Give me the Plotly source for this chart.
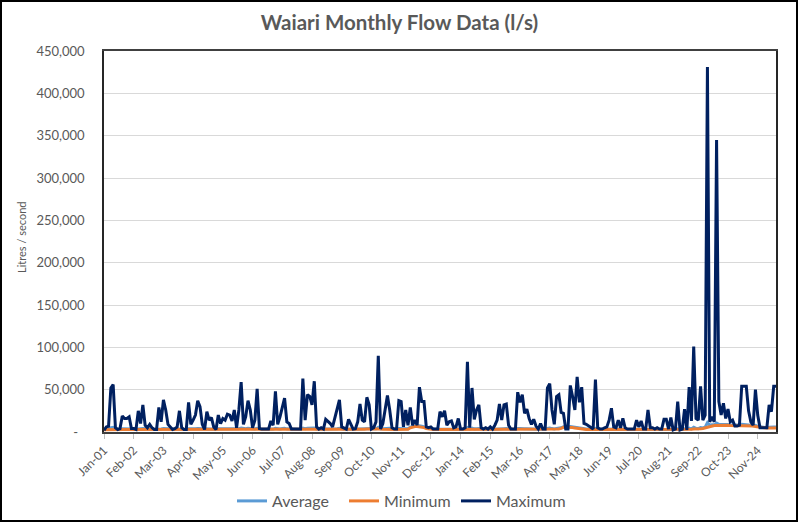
import plotly.graph_objects as go

# ---------------- data ----------------
month_names = ["Jan", "Feb", "Mar", "Apr", "May", "Jun",
               "Jul", "Aug", "Sep", "Oct", "Nov", "Dec"]
months = [f"{m}-{y % 100:02d}" for y in range(2001, 2026) for m in month_names][:295]

maximum = [
    2000, 6000, 7000, 52000, 56000, 5000, 3000, 4000, 19000, 16000, 16000, 18000,      # 2001
    4000, 4000, 3000, 25000, 10000, 32000, 8000, 5000, 9000, 5000, 3000, 3000,         # 2002
    29000, 12000, 38000, 26000, 9000, 6000, 3000, 4000, 6000, 25000, 5000, 3000,       # 2003
    3000, 35000, 9000, 14000, 20000, 37000, 30000, 9000, 3000, 24000, 14000, 17000,    # 2004
    6000, 3000, 20000, 10000, 16000, 14000, 21000, 20000, 13000, 26000, 5000, 26000,   # 2005
    59000, 9000, 18000, 37000, 26000, 5000, 14000, 51000, 4000, 3500, 3500, 3500,      # 2006
    3500, 13000, 8000, 48000, 9000, 18000, 28000, 40000, 12000, 10000, 3500, 3500,     # 2007
    3500, 3500, 3500, 63000, 14000, 44000, 42000, 32000, 60000, 6000, 3500, 5000,      # 2008
    3500, 15000, 13000, 10000, 6000, 16000, 25000, 38000, 6000, 5000, 3500, 15000,     # 2009
    10000, 3500, 4000, 12000, 33000, 14000, 12000, 41000, 32000, 3500, 5000, 12000,    # 2010
    90000, 3500, 10000, 26000, 43000, 26000, 5000, 3500, 3500, 37000, 36000, 6000,     # 2011
    26000, 8000, 29000, 8000, 14000, 8000, 53000, 36000, 36000, 6000, 5000, 6000,      # 2012
    3500, 3500, 3500, 24000, 18000, 25000, 8000, 12000, 13000, 5000, 6000, 16000,      # 2013
    3500, 3500, 5000, 83000, 5000, 52000, 15000, 26000, 32000, 5000, 3500, 5000,       # 2014
    3500, 6000, 3500, 8000, 14000, 33000, 14000, 32000, 33000, 8000, 3500, 3500,       # 2015
    3500, 47000, 35000, 44000, 22000, 27000, 16000, 9000, 15000, 7000, 3500, 10000,    # 2016
    3500, 3500, 52000, 57000, 26000, 9000, 42000, 44000, 23000, 22000, 3500, 3500,     # 2017
    55000, 42000, 26000, 65000, 35000, 53000, 10000, 9000, 7000, 5000, 3500, 62000,    # 2018
    5000, 3500, 3500, 5000, 6000, 14000, 28000, 6000, 5000, 14000, 5000, 16000,        # 2019
    5000, 3500, 3500, 3500, 3500, 14000, 6000, 13000, 3500, 3500, 26000, 5000,         # 2020
    5000, 3500, 5000, 3500, 3500, 15000, 15000, 3500, 17000, 2500, 3500, 36000,        # 2021
    2500, 3500, 27000, 2500, 53000, 13000, 101000, 16000, 14000, 54000, 14000, 20000,  # 2022
    431000, 12000, 18000, 12000, 345000, 36000, 20000, 34000, 16000, 27000, 12000, 14000,  # 2023
    7000, 7000, 8000, 54000, 54000, 54000, 25000, 12000, 8000, 50000, 20000, 5000,     # 2024
    5000, 5000, 5000, 32000, 24000, 54000, 54000,                                      # 2025
]

minimum = [
    2800, 2900, 3000, 3200, 3300, 3000, 2900, 2800, 2900, 3000, 3000, 3000,
    2900, 2800, 2800, 3000, 3000, 3100, 3000, 2900, 2900, 2800, 2800, 2800,
    2900, 2900, 3000, 3100, 3000, 2900, 2800, 2800, 2800, 2900, 2800, 2700,
    2700, 2900, 3000, 3000, 3100, 3200, 3200, 3000, 2900, 2900, 2900, 2900,
    2900, 2800, 2900, 2900, 3000, 3000, 3000, 3000, 3000, 3000, 2900, 3000,
    3200, 3100, 3100, 3300, 3300, 3100, 3000, 3200, 3000, 2900, 2900, 2800,
    2800, 2800, 2900, 3100, 3000, 3000, 3100, 3200, 3100, 3000, 2900, 2800,
    2800, 2800, 2800, 3100, 3100, 3200, 3300, 3300, 3300, 3100, 2900, 2900,
    2800, 2900, 2900, 2900, 2900, 3000, 3100, 3200, 3000, 2900, 2800, 2900,
    2900, 2900, 2900, 3000, 3200, 3200, 3200, 3600, 3800, 3600, 3400, 3400,
    3800, 3400, 3300, 3400, 3600, 3500, 3300, 3100, 3000, 3200, 3300, 3200,
    3300, 3300, 5000, 6000, 6500, 6500, 6200, 5800, 5200, 4200, 3600, 3300,
    3100, 3000, 3000, 3100, 3100, 3200, 3100, 3100, 3100, 3000, 3000, 3100,
    2900, 2900, 2900, 3500, 3200, 3400, 3200, 3200, 3300, 3000, 2900, 2900,
    2800, 2800, 2800, 2900, 3000, 3100, 3000, 3100, 3100, 3000, 2900, 2800,
    2800, 3100, 3200, 3300, 3200, 3200, 3100, 3000, 3000, 2900, 2900, 2900,
    2800, 2800, 3200, 3500, 3400, 3200, 3400, 3600, 4200, 5500, 5500, 5500,
    5500, 5200, 4600, 4200, 3600, 3400, 3200, 3100, 3000, 3000, 2900, 3200,
    3000, 2900, 2900, 2900, 2900, 3000, 3000, 2900, 2900, 2900, 2800, 2900,
    2800, 2700, 2700, 2700, 2700, 2800, 2800, 2800, 2700, 2700, 2800, 2700,
    2700, 2700, 2700, 2700, 2700, 2800, 2800, 2700, 2800, 2700, 2700, 2900,
    2800, 2800, 3000, 2900, 3200, 3200, 3600, 3500, 3600, 3800, 4200, 5000,
    6000, 6800, 7200, 7600, 7800, 8000, 8000, 8000, 8000, 8000, 7800, 7800,
    7600, 7600, 7600, 7800, 7800, 7800, 7600, 7400, 7000, 6500, 6000, 5500,
    5000, 4800, 4600, 4600, 4600, 4600, 4600,
]

average = [
    3400, 3800, 4000, 5200, 5600, 3900, 3500, 3400, 3800, 3900, 3900, 3900,
    3500, 3400, 3300, 4000, 3800, 4100, 3700, 3400, 3500, 3300, 3200, 3200,
    3800, 3600, 4100, 4000, 3600, 3400, 3200, 3200, 3300, 3700, 3300, 3100,
    3100, 3800, 3600, 3700, 3900, 4200, 4100, 3600, 3300, 3700, 3600, 3600,
    3500, 3300, 3700, 3500, 3700, 3700, 3800, 3800, 3600, 3900, 3400, 3900,
    4600, 3800, 3900, 4400, 4100, 3600, 3600, 4500, 3400, 3200, 3200, 3100,
    3100, 3400, 3400, 4300, 3600, 3700, 4000, 4300, 3700, 3500, 3200, 3100,
    3100, 3100, 3100, 4600, 3800, 4400, 4500, 4200, 4700, 3600, 3200, 3300,
    3100, 3500, 3500, 3400, 3300, 3700, 3900, 4300, 3400, 3300, 3100, 3500,
    3500, 3200, 3300, 3600, 4200, 3800, 3800, 4600, 4500, 4000, 3800, 3900,
    5600, 3700, 3800, 4200, 4600, 4300, 3700, 3400, 3300, 4200, 4300, 3600,
    4100, 3800, 5800, 6600, 7000, 6900, 7400, 6800, 6200, 4800, 4100, 3800,
    3400, 3300, 3300, 3900, 3700, 3900, 3500, 3600, 3600, 3300, 3300, 3700,
    3200, 3200, 3300, 5200, 3500, 4500, 3700, 3900, 4100, 3400, 3200, 3300,
    3100, 3200, 3100, 3300, 3600, 4000, 3500, 3900, 4000, 3400, 3200, 3100,
    3100, 4100, 4000, 4300, 3800, 3900, 3600, 3400, 3500, 3300, 3200, 3400,
    3100, 3100, 4300, 4700, 4000, 3700, 4300, 4600, 4900, 6100, 5900, 5900,
    6600, 6100, 5400, 5600, 4500, 4600, 3800, 3600, 3500, 3400, 3200, 4400,
    3400, 3200, 3200, 3300, 3300, 3600, 3800, 3300, 3300, 3600, 3200, 3600,
    3200, 3000, 3000, 3000, 3000, 3300, 3100, 3300, 3000, 3000, 3500, 3100,
    3100, 3000, 3100, 3000, 3000, 3300, 3300, 3000, 3400, 2900, 3000, 3800,
    3100, 3100, 3800, 3200, 4500, 3700, 5600, 4200, 4000, 5200, 4800, 5800,
    11000, 8000, 8600, 8600, 10500, 9000, 8800, 9000, 8700, 8900, 8400, 8400,
    8100, 8100, 8200, 9200, 9100, 9000, 8400, 8000, 7500, 7800, 6600, 6000,
    5500, 5300, 5100, 5600, 5400, 6000, 6000,
]

series_names = ["Average", "Minimum", "Maximum"]
series_colors = ["#5B9BD5", "#ED7D31", "#002060"]

y_tick_values = [0, 50000, 100000, 150000, 200000, 250000, 300000, 350000, 400000, 450000]
y_tick_labels = ["-\u00a0\u00a0", "50,000", "100,000", "150,000", "200,000", "250,000",
                 "300,000", "350,000", "400,000", "450,000"]
x_tick_labels = months[::13]

# ---------------- figure ----------------
W, H = 799, 523
L, R, T, B = 104, 23, 51, 91
pw, ph = W - L - R, H - T - B

FONT = "Lato, 'Open Sans', sans-serif"
GREY = "#595959"

fig = go.Figure()
for name, vals, col in zip(series_names, [average, minimum, maximum], series_colors):
    fig.add_trace(go.Scatter(
        x=months, y=vals, name=name, mode="lines",
        line=dict(color=col, width=3),
    ))

fig.update_layout(
    width=W, height=H,
    margin=dict(l=L, r=R, t=T, b=B, pad=0, autoexpand=False),
    paper_bgcolor="white", plot_bgcolor="white",
    font=dict(family=FONT, color=GREY),
    title=dict(text="<b>Waiari Monthly Flow Data (l/s)</b>", x=0.5, xanchor="center",
               y=1 - 23 / H, yanchor="middle",
               font=dict(size=20.5, color=GREY, family=FONT)),
    showlegend=True,
    legend=dict(orientation="h", x=(232 - L) / pw, xanchor="left",
                y=(432 - 501) / ph, yanchor="middle",
                font=dict(size=16, color=GREY), itemwidth=30,
                entrywidth=67, entrywidthmode="pixels",
                bgcolor="rgba(0,0,0,0)"),
    xaxis=dict(
        type="category", range=[0, len(months) - 1], automargin=False,
        tickmode="array", tickvals=x_tick_labels, ticktext=x_tick_labels,
        tickangle=-45, tickfont=dict(size=12, color=GREY),
        ticks="outside", ticklen=5, tickcolor="#BFBFBF",
        showgrid=False, showline=True, linecolor="#404040", linewidth=1.5,
        mirror=True, zeroline=False,
    ),
    yaxis=dict(
        range=[0, 450000], tickmode="array", automargin=False,
        tickvals=y_tick_values, ticktext=y_tick_labels,
        tickfont=dict(size=13, color=GREY),
        showgrid=True, gridcolor="#D9D9D9", gridwidth=1,
        showline=True, linecolor="#262626", linewidth=1.5, mirror=True,
        zeroline=False, ticks="outside", ticklen=15, tickcolor="rgba(0,0,0,0)",
    ),
)

# y-axis title
fig.add_annotation(text="Litres / second", xref="paper", yref="paper",
                   x=(21 - L) / pw, y=(432 - 238) / ph, xanchor="center", yanchor="middle",
                   textangle=-90, showarrow=False, font=dict(size=11, color=GREY))

# outer chart frame
fig.add_shape(type="rect", xref="paper", yref="paper",
              x0=(1 - L) / pw, x1=(W - 2 - L) / pw,
              y0=-(B - 2) / ph, y1=1 + (T - 1) / ph,
              line=dict(color="black", width=2), fillcolor="rgba(0,0,0,0)", layer="below")

fig.write_html("out.html", config={"displayModeBar": False},
               post_script="document.body.style.margin='0';document.body.style.overflow='hidden';")
